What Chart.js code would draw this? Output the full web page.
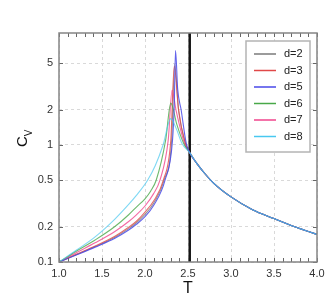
<!DOCTYPE html>
<html>
<head>
<meta charset="utf-8">
<script src="https://cdn.jsdelivr.net/npm/chart.js@4.4.0/dist/chart.umd.min.js"></script>
<style>
  html, body { margin: 0; padding: 0; background: #fff; }
  #wrap { width: 332px; height: 307px; }
</style>
</head>
<body>
<div id="wrap"><canvas id="cvChart" width="332" height="307"></canvas></div>
<script>
// tick values
const xTicks = [1.0, 1.5, 2.0, 2.5, 3.0, 3.5, 4.0];
const yTicks = [0.1, 0.2, 0.5, 1, 2, 5];

// series names + colours
const labels = ['d=2', 'd=3', 'd=5', 'd=6', 'd=7', 'd=8'];
const colors = ['#7a7a7a', '#e04848', '#4848e8', '#48a848', '#f0448c', '#48c8f0'];

// T values and C_V values for each series (up to the critical line)
const tD2 = [1.0, 1.2, 1.42, 1.65, 1.81, 1.9, 2.0, 2.1, 2.222, 2.31, 2.345, 2.39, 2.47, 2.52];
const cD2 = [0.1, 0.1155, 0.1355, 0.163, 0.193, 0.2165, 0.255, 0.318, 0.5, 1.1, 4.9, 2.0, 1.03, 0.86];

const tD3 = [1.0, 1.2, 1.42, 1.65, 1.81, 1.9, 2.0, 2.1, 2.213, 2.30, 2.34, 2.39, 2.47, 2.52];
const cD3 = [0.1, 0.1165, 0.137, 0.166, 0.198, 0.223, 0.267, 0.332, 0.5, 1.1, 4.7, 2.0, 1.03, 0.86];

const tD5 = [1.0, 1.2, 1.42, 1.65, 1.81, 1.9, 2.0, 2.1, 2.233, 2.32, 2.34, 2.355, 2.38, 2.42, 2.48, 2.52];
const cD5 = [0.1, 0.1148, 0.134, 0.1596, 0.1875, 0.21, 0.244, 0.304, 0.5, 1.1, 2.2, 6.4, 3.0, 2.0, 1.03, 0.86];

const tD6 = [1.0, 1.2, 1.42, 1.65, 1.81, 1.9, 2.0, 2.065, 2.13, 2.24, 2.30, 2.37, 2.45, 2.52];
const cD6 = [0.1, 0.1236, 0.1542, 0.201, 0.2535, 0.295, 0.347, 0.403, 0.5, 1.1, 2.28, 1.5, 1.03, 0.86];

const tD7 = [1.0, 1.2, 1.42, 1.65, 1.81, 1.9, 2.0, 2.1, 2.174, 2.27, 2.315, 2.36, 2.46, 2.52];
const cD7 = [0.1, 0.1202, 0.1459, 0.1824, 0.2218, 0.253, 0.301, 0.384, 0.5, 1.1, 2.95, 2.0, 1.03, 0.86];

const tD8 = [1.0, 1.2, 1.42, 1.65, 1.81, 1.9, 2.03, 2.12, 2.21, 2.30, 2.36, 2.43, 2.52];
const cD8 = [0.1, 0.126, 0.164, 0.2328, 0.3105, 0.3707, 0.5, 0.668, 1.0, 1.68, 1.4, 1.03, 0.86];

// common high-temperature tail
const tailT = [2.6, 2.7, 2.8, 3.0, 3.25, 3.5, 3.75, 4.0];
const tailC = [0.70, 0.565, 0.47, 0.36, 0.28, 0.235, 0.199, 0.172];

// vertical marker
const criticalT = 2.52;

const seriesT = [tD2, tD3, tD5, tD6, tD7, tD8];
const seriesC = [cD2, cD3, cD5, cD6, cD7, cD8];
// draw order (higher = further back)
const drawOrder = [6, 5, 2, 3, 4, 1];
const lineAlpha = [0.8, 0.8, 0.85, 0.8, 0.8, 0.7];

const FONT = "'Liberation Sans', Arial, sans-serif";

function toPoints(ts, cs) {
    const pts = ts.map((t, i) => ({ x: t, y: cs[i] }));
    tailT.forEach((t, i) => pts.push({ x: t, y: tailC[i] }));
    return pts;
}

function withAlpha(hex, a) {
    const n = parseInt(hex.slice(1), 16);
    return 'rgba(' + (n >> 16) + ',' + ((n >> 8) & 255) + ',' + (n & 255) + ',' + a + ')';
}

const datasets = labels.map((lab, i) => ({
    label: lab,
    data: toPoints(seriesT[i], seriesC[i]),
    borderColor: withAlpha(colors[i], lineAlpha[i]),
    borderWidth: 1.1,
    pointRadius: 0,
    fill: false,
    cubicInterpolationMode: 'monotone',
    order: drawOrder[i]
}));

datasets.push({
    label: 'Tc',
    data: [{ x: criticalT, y: 0.1 }, { x: criticalT, y: 9.06 }],
    borderColor: '#151515',
    borderWidth: 2.5,
    pointRadius: 0,
    order: 10
});

// frame, minor ticks, legend and axis titles
const decorPlugin = {
    id: 'decor',
    afterDraw(chart) {
        const { ctx, chartArea: a, scales: { x, y } } = chart;
        ctx.save();

        // small inward ticks
        ctx.strokeStyle = '#666';
        ctx.lineWidth = 1;
        ctx.beginPath();
        for (let i = 0; i <= 30; i++) {
            const px = Math.round(x.getPixelForValue(1 + i * 0.1)) + 0.5;
            ctx.moveTo(px, a.bottom); ctx.lineTo(px, a.bottom - 4);
            ctx.moveTo(px, a.top); ctx.lineTo(px, a.top + 4);
        }
        yTicks.forEach(v => {
            const py = Math.round(y.getPixelForValue(v)) + 0.5;
            ctx.moveTo(a.left, py); ctx.lineTo(a.left + 4, py);
            ctx.moveTo(a.right, py); ctx.lineTo(a.right - 4, py);
        });
        ctx.stroke();

        // plot frame
        ctx.strokeStyle = '#858585';
        ctx.lineWidth = 1.5;
        ctx.strokeRect(a.left, a.top, a.right - a.left, a.bottom - a.top);

        // legend box
        const lx = 246, ly = 41, lw = 64, lh = 111;
        ctx.fillStyle = '#fff';
        ctx.fillRect(lx, ly, lw, lh);
        ctx.strokeStyle = '#b4b4b4';
        ctx.lineWidth = 1.5;
        ctx.strokeRect(lx, ly, lw, lh);
        ctx.font = '11px ' + FONT;
        ctx.textBaseline = 'middle';
        ctx.textAlign = 'left';
        labels.forEach((lab, i) => {
            const ry = 54 + i * 16.5;
            ctx.strokeStyle = colors[i];
            ctx.lineWidth = 1.5;
            ctx.beginPath();
            ctx.moveTo(254, ry); ctx.lineTo(276, ry);
            ctx.stroke();
            ctx.fillStyle = '#222';
            ctx.fillText(lab, 284, ry);
        });

        // x title
        ctx.fillStyle = '#111';
        ctx.font = '16px ' + FONT;
        ctx.textAlign = 'center';
        ctx.textBaseline = 'middle';
        ctx.fillText('T', (a.left + a.right) / 2, 289);

        // y title C_V
        ctx.translate(27, 147);
        ctx.rotate(-Math.PI / 2);
        ctx.textAlign = 'left';
        ctx.textBaseline = 'alphabetic';
        ctx.font = '15px ' + FONT;
        ctx.fillText('C', 0, 0);
        const wc = ctx.measureText('C').width;
        ctx.font = '10px ' + FONT;
        ctx.fillText('V', wc, 4.5);

        ctx.restore();
    }
};

new Chart(document.getElementById('cvChart'), {
    type: 'line',
    data: { datasets: datasets },
    options: {
        responsive: false,
        animation: false,
        layout: { padding: { top: 33, right: 15, left: 0, bottom: 0 } },
        plugins: {
            legend: { display: false },
            tooltip: { enabled: false }
        },
        scales: {
            x: {
                type: 'linear',
                min: 1,
                max: 4,
                afterFit: s => { s.height = 45; },
                afterBuildTicks: s => { s.ticks = xTicks.map(v => ({ value: v })); },
                ticks: {
                    padding: 5,
                    maxRotation: 0,
                    autoSkip: false,
                    color: '#333',
                    font: { family: FONT, size: 11 },
                    callback: v => Number(v).toFixed(1)
                },
                grid: { color: '#d9d9d9', lineWidth: 1, drawTicks: false },
                border: { display: false, dash: [3, 3] }
            },
            y: {
                type: 'logarithmic',
                min: 0.1,
                max: 9.06,
                afterFit: s => { s.width = 59; },
                afterBuildTicks: s => { s.ticks = yTicks.map(v => ({ value: v })); },
                ticks: {
                    padding: 6,
                    autoSkip: false,
                    color: '#333',
                    font: { family: FONT, size: 11 },
                    callback: v => String(v)
                },
                grid: { color: '#d9d9d9', lineWidth: 1, drawTicks: false },
                border: { display: false, dash: [3, 3] }
            }
        }
    },
    plugins: [decorPlugin]
});
</script>
</body>
</html>
